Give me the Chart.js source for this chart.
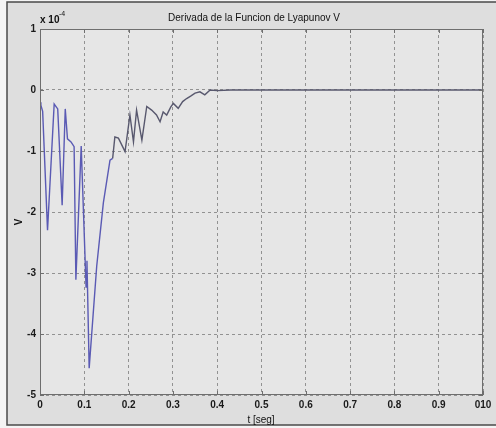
<!DOCTYPE html>
<html>
<head>
<meta charset="utf-8">
<title>Derivada de la Funcion de Lyapunov V</title>
<script src="https://cdn.jsdelivr.net/npm/chart.js@4.4.0/dist/chart.umd.min.js"></script>
<style>
  html, body { margin: 0; padding: 0; background: #f4f4f4; }
  #wrap { width: 496px; height: 428px; position: relative; }
</style>
</head>
<body>
<div id="wrap"><canvas id="lyapChart" width="496" height="428"></canvas></div>
<script>
// t [seg] and dV/dt (x 10^-4)
const tSeg = [0.000, 0.002, 0.006, 0.017, 0.032, 0.040, 0.050, 0.057, 0.062, 0.070,
  0.077, 0.081, 0.093, 0.104, 0.106, 0.111, 0.128, 0.143, 0.158, 0.164,
  0.169, 0.177, 0.192, 0.203, 0.211, 0.218, 0.230, 0.241, 0.252, 0.263,
  0.271, 0.278, 0.286, 0.295, 0.301, 0.312, 0.322, 0.331, 0.340, 0.350,
  0.361, 0.372, 0.384, 0.400, 0.430, 1.000];
const dV = [-0.20, -0.25, -0.35, -2.30, -0.23, -0.31, -1.89, -0.31, -0.80, -0.85,
  -0.93, -3.11, -0.92, -3.23, -2.80, -4.56, -2.89, -1.85, -1.15, -1.12,
  -0.77, -0.79, -1.01, -0.41, -0.85, -0.33, -0.82, -0.27, -0.33, -0.41,
  -0.52, -0.36, -0.41, -0.28, -0.22, -0.30, -0.19, -0.14, -0.10, -0.05,
  -0.03, -0.08, 0.00, -0.01, 0.00, 0.00];

const xTickLabels = ['0', '0.1', '0.2', '0.3', '0.4', '0.5', '0.6', '0.7', '0.8', '0.9', '010'];
const yTickLabels = ['-5', '-4', '-3', '-2', '-1', '0', '1'];

const chartTitle = 'Derivada de la Funcion de Lyapunov V';
const xTitle = 't [seg]';
const yTitle = 'V';

const FONT = 'Liberation Sans, Arial, sans-serif';

// background, frame, box, inner ticks and the matlab style texts
const matlabLook = {
  id: 'matlabLook',
  beforeDraw(chart) {
    const ctx = chart.ctx;
    const a = chart.chartArea;
    ctx.save();
    ctx.fillStyle = '#dedede';
    ctx.fillRect(7, 2, 496, 423);
    ctx.strokeStyle = '#4a4a4a';
    ctx.lineWidth = 1.5;
    ctx.strokeRect(7, 2, 500, 423);
    ctx.fillStyle = '#e6e6e6';
    ctx.fillRect(a.left, a.top, a.right - a.left, a.bottom - a.top);
    ctx.restore();
  },
  afterDraw(chart) {
    const ctx = chart.ctx;
    const a = chart.chartArea;
    const xs = chart.scales.x, ys = chart.scales.y;
    ctx.save();
    ctx.strokeStyle = '#6e6e6e';
    ctx.lineWidth = 1;
    ctx.strokeRect(a.left + 0.5, a.top + 0.5, a.right - a.left - 1, a.bottom - a.top - 1);
    ctx.beginPath();
    xs.ticks.forEach(t => {
      const px = Math.round(xs.getPixelForValue(t.value)) + 0.5;
      ctx.moveTo(px, a.bottom); ctx.lineTo(px, a.bottom - 4);
      ctx.moveTo(px, a.top); ctx.lineTo(px, a.top + 4);
    });
    ys.ticks.forEach(t => {
      const py = Math.round(ys.getPixelForValue(t.value)) + 0.5;
      ctx.moveTo(a.left, py); ctx.lineTo(a.left + 4, py);
      ctx.moveTo(a.right, py); ctx.lineTo(a.right - 4, py);
    });
    ctx.stroke();

    ctx.fillStyle = '#111';
    ctx.textAlign = 'center';
    ctx.textBaseline = 'middle';
    ctx.font = '10px ' + FONT;
    ctx.fillText(chartTitle, 254, 18);
    ctx.fillText(xTitle, 261, 420);

    ctx.textAlign = 'left';
    ctx.font = 'bold 10px ' + FONT;
    ctx.fillText('x 10', 40, 20);
    ctx.font = '7px ' + FONT;
    ctx.fillText('-4', 59, 14);

    ctx.translate(19, 222);
    ctx.rotate(-Math.PI / 2);
    ctx.textAlign = 'center';
    ctx.font = 'bold 10px ' + FONT;
    ctx.fillText(yTitle, 0, 0);
    ctx.restore();
  }
};

const gridStyle = { color: '#929292', lineWidth: 1, drawTicks: false };

new Chart(document.getElementById('lyapChart'), {
  type: 'line',
  data: {
    datasets: [{
      data: tSeg.map((t, i) => ({ x: t, y: dV[i] })),
      borderWidth: 1.4,
      pointRadius: 0,
      tension: 0,
      fill: false,
      segment: {
        borderColor: ctx => ctx.p0.parsed.x < 0.16 ? '#5a5ab4' : '#58586e'
      }
    }]
  },
  options: {
    responsive: false,
    animation: false,
    layout: { padding: { top: 29, right: 13, left: 0, bottom: 0 } },
    plugins: { legend: { display: false }, tooltip: { enabled: false }, title: { display: false } },
    scales: {
      x: {
        type: 'linear',
        min: 0, max: 1,
        afterFit: s => { s.height = 33; },
        grid: gridStyle,
        border: { display: false, dash: [3, 3] },
        ticks: {
          stepSize: 0.1,
          padding: 4,
          color: '#1a1a1a',
          font: { family: FONT, size: 10, weight: 'bold' },
          maxRotation: 0,
          autoSkip: false,
          callback: (v, i) => xTickLabels[i]
        }
      },
      y: {
        min: -5, max: 1,
        afterFit: s => { s.width = 40; },
        grid: gridStyle,
        border: { display: false, dash: [3, 3] },
        ticks: {
          stepSize: 1,
          padding: 4,
          color: '#1a1a1a',
          font: { family: FONT, size: 10, weight: 'bold' },
          callback: (v, i) => yTickLabels[i]
        }
      }
    }
  },
  plugins: [matlabLook]
});
</script>
</body>
</html>
